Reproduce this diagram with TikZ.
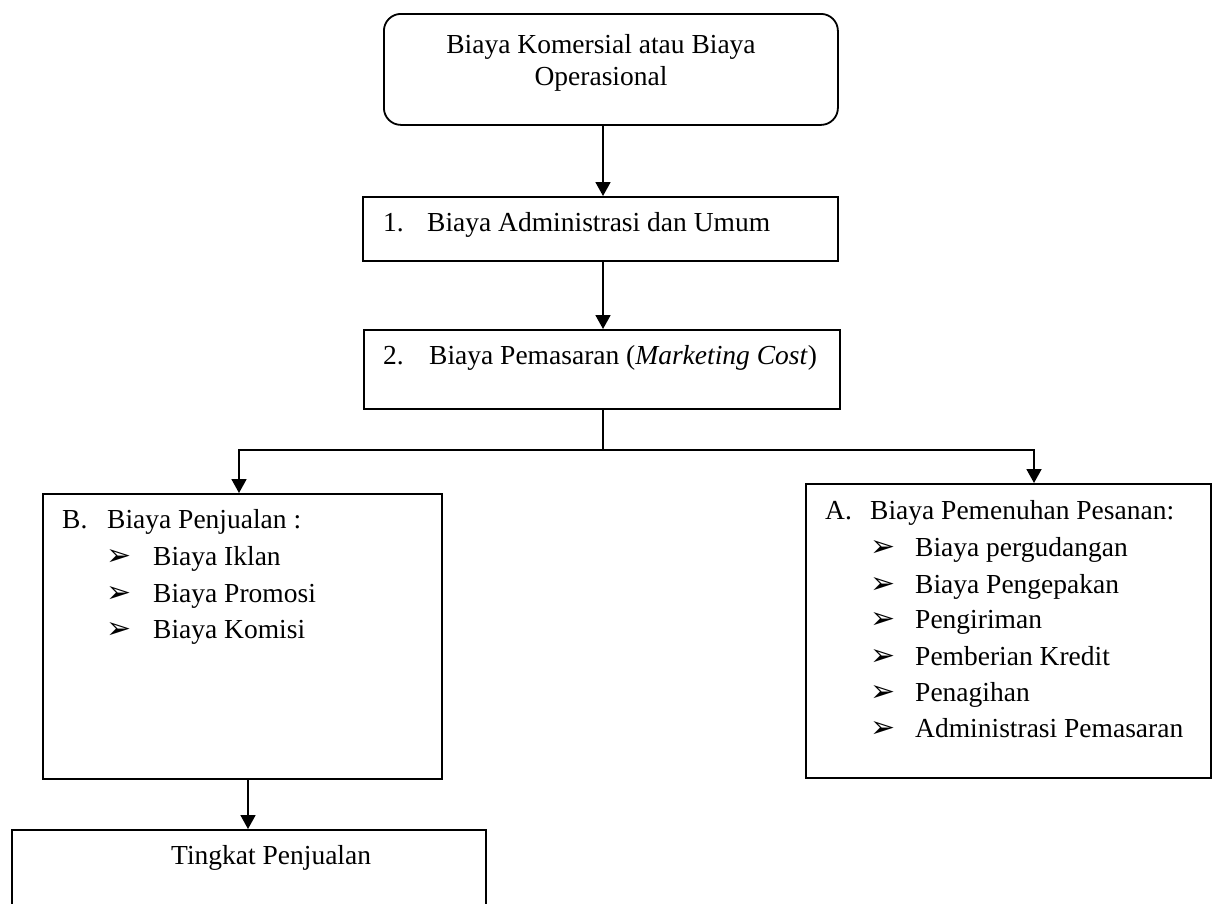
\documentclass[tikz,border=0pt]{standalone}
\usepackage{fontspec}
\setmainfont{Liberation Serif}
\newfontfamily\bulfont{DejaVu Sans}
\usetikzlibrary{arrows.meta}
\begin{document}
\begin{tikzpicture}[x=1pt,y=-1pt,
  every node/.style={font=\fontsize{27.5}{32}\selectfont},
  box/.style={draw,line width=1.8pt,rectangle,anchor=north west,inner sep=0pt},
  txt/.style={anchor=base west,inner sep=0pt},
  ctxt/.style={anchor=base,inner sep=0pt},
  bul/.style={anchor=base west,inner sep=0pt,font=\bulfont\fontsize{30}{30}\selectfont},
  arr/.style={line width=1.8pt,-{Triangle[length=14pt,width=15pt]}},
  ln/.style={line width=1.8pt}]
\useasboundingbox (0,0) rectangle (1212,903);
\fill[white] (0,0) rectangle (1212,903);
% boxes
\node[box,rounded corners=17pt,minimum width=454pt,minimum height=111pt] (top) at (383,13) {};
\node[box,minimum width=475pt,minimum height=64pt] (b1) at (362,196) {};
\node[box,minimum width=476pt,minimum height=79pt] (b2) at (363,329) {};
\node[box,minimum width=399pt,minimum height=285pt] (bB) at (42,493) {};
\node[box,minimum width=405pt,minimum height=294pt] (bA) at (805,483) {};
\node[box,minimum width=474pt,minimum height=120pt] (bT) at (11,829) {};
% texts
\node[ctxt] (t1) at (601,53) {Biaya Komersial atau Biaya};
\node[ctxt] (t2) at (601,85) {Operasional};
\node[txt] (n1) at (383,231) {1.};
\node[txt] (s1) at (427,231) {Biaya Administrasi dan Umum};
\node[txt] (n2) at (383,364) {2.};
\node[txt] (s2) at (429,364) {Biaya Pemasaran (\textit{Marketing Cost})};
\node[txt] (nB) at (62,528) {B.};
\node[txt] (sB) at (107,528) {Biaya Penjualan :};
\foreach \y/\t [count=\i] in {565/Biaya Iklan,602/Biaya Promosi,638/Biaya Komisi}{
  \node[bul] (bb\i) at (106,\y) {➢};
  \node[txt] (ib\i) at (153,\y) {\t};
}
\node[txt] (nA) at (825,519) {A.};
\node[txt] (sA) at (870,519) {Biaya Pemenuhan Pesanan:};
\foreach \y/\t [count=\i] in {556/Biaya pergudangan,593/Biaya Pengepakan,628/Pengiriman,665/Pemberian Kredit,701/Penagihan,737/Administrasi Pemasaran}{
  \node[bul] (ba\i) at (870,\y) {➢};
  \node[txt] (ia\i) at (915,\y) {\t};
}
\node[txt] (tT) at (171,864) {Tingkat Penjualan};
% connectors
\coordinate (cx) at (603,0);
\coordinate (jn) at (603,450);
\coordinate (lx) at (239,450);
\coordinate (rx) at (1034,450);
\coordinate (bx) at (248,0);
\draw[arr] (top.south -| cx) -- (b1.north -| cx);
\draw[arr] (b1.south -| cx) -- (b2.north -| cx);
\draw[ln] (b2.south -| cx) -- (jn);
\draw[arr] (jn) -- (lx) -- (bB.north -| lx);
\draw[arr] (jn) -- (rx) -- (bA.north -| rx);
\draw[arr] (bB.south -| bx) -- (bT.north -| bx);
\end{tikzpicture}
\end{document}
